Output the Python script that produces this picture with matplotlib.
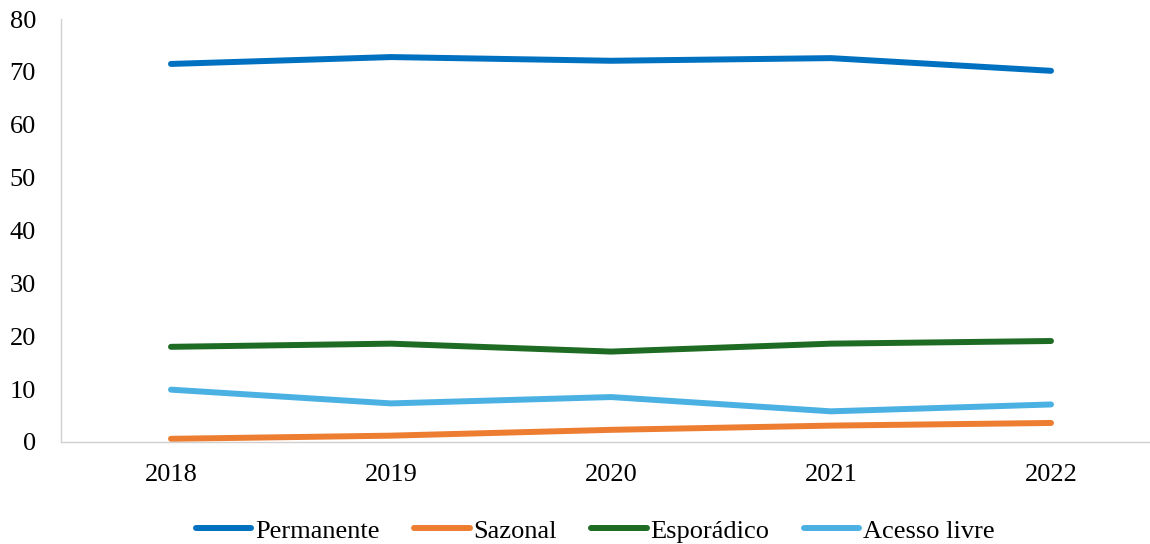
import matplotlib.pyplot as plt

anos = ["2018", "2019", "2020", "2021", "2022"]
permanente = [71.5, 72.8, 72.1, 72.6, 70.2]
sazonal = [0.6, 1.2, 2.3, 3.1, 3.6]
esporadico = [18.0, 18.6, 17.1, 18.6, 19.1]
acesso_livre = [9.9, 7.3, 8.5, 5.8, 7.1]

plt.rcParams['font.family'] = ['Liberation Serif', 'DejaVu Serif']

fig = plt.figure(figsize=(11.5, 5.44), dpi=100)
ax = fig.add_axes([61 / 1150, 1 - 442 / 544, 1 - 61 / 1150, (442 - 19) / 544])

x = range(len(anos))
ax.plot(x, permanente, color='#0070C0', lw=4.3, label='Permanente', solid_capstyle='round')
ax.plot(x, sazonal, color='#ED7D31', lw=4.3, label='Sazonal', solid_capstyle='round')
ax.plot(x, esporadico, color='#1E6B24', lw=4.3, label='Esporádico', solid_capstyle='round')
ax.plot(x, acesso_livre, color='#4BB1E3', lw=4.3, label='Acesso livre', solid_capstyle='round')

ax.set_xlim(-0.5, 4.45)
ax.set_ylim(0, 80)
ax.set_yticks(range(0, 81, 10))
ax.set_xticks(list(x))
ax.set_xticklabels(anos)
ax.tick_params(axis='both', length=0, labelsize=19, colors='black')
ax.tick_params(axis='x', pad=16)
ax.tick_params(axis='y', pad=18)

for s in ['top', 'right']:
    ax.spines[s].set_visible(False)
ax.spines['left'].set_color('#D0D0D0')
ax.spines['bottom'].set_color('#D0D0D0')
ax.spines['left'].set_linewidth(1)
ax.spines['bottom'].set_linewidth(1)

ax.legend(loc='center', bbox_to_anchor=(0.5 - 10 / 1089, -0.21), ncol=4, frameon=False,
          fontsize=19, handlelength=2.1, handletextpad=0.15, columnspacing=1.3)

fig.savefig('out.png', dpi=100)
